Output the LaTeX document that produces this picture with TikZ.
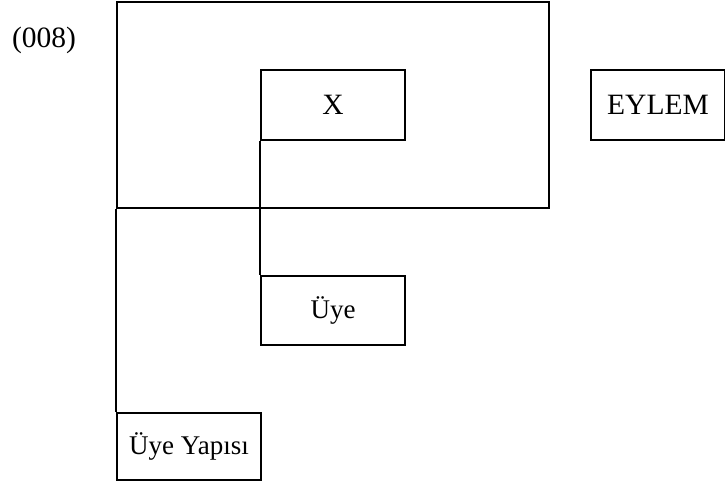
\documentclass[tikz,border=0pt]{standalone}
\usepackage{fontspec}
\setmainfont{Liberation Serif}
\begin{document}
\begin{tikzpicture}[x=1pt, y=-1pt, line width=2pt,
        every node/.style={font=\fontsize{29.5}{34}\selectfont},
        box/.style={draw, inner sep=0pt, anchor=north west},
        member/.style={box, font=\fontsize{27}{32}\selectfont}]
            \useasboundingbox (0,0) rectangle (725,481);
            % Label
            \node (num) at (44,40) {(008)};
            % Outer frame and boxes
            \node[box, minimum width=432pt, minimum height=206pt] (frame) at (116,1) {};
            \node[box, minimum width=144pt, minimum height=70pt] (x) at (260,69) {X};
            \node[box, minimum width=134pt, minimum height=70pt] (eylem) at (590,69) {EYLEM};
            \node[member, minimum width=144pt, minimum height=69pt] (uye) at (260,275) {Üye};
            \node[member, minimum width=144pt, minimum height=67pt] (yapi) at (116,412) {Üye Yapısı};
            % Links down to the members
            \draw (x.south west) -- (uye.north west);
            \draw (frame.south west) -- (yapi.north west);
        \end{tikzpicture}
\end{document}
